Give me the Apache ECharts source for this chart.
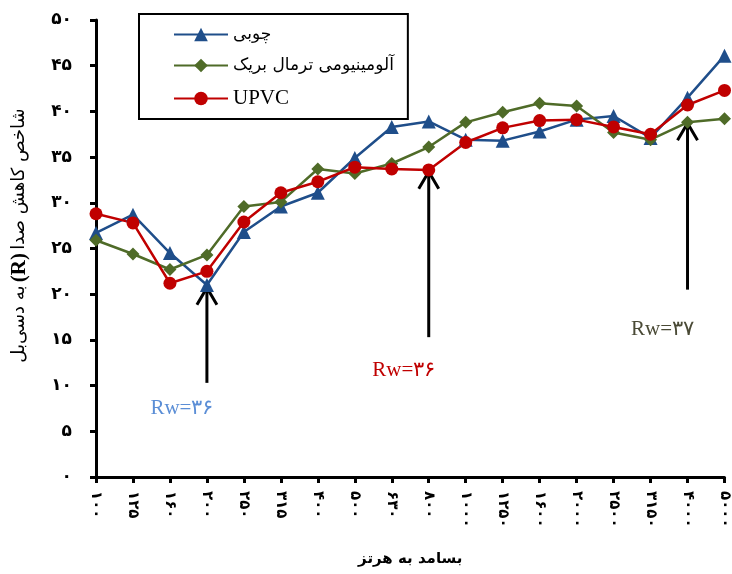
<!DOCTYPE html>
<html>
<head>
<meta charset="utf-8">
<script src="https://cdn.jsdelivr.net/npm/echarts@6/dist/echarts.min.js"></script>
<style>
  html, body { margin: 0; padding: 0; background: #fff; }
  #chart { width: 732px; height: 574px; }
</style>
</head>
<body>
<div id="chart"></div>
<script>
// Frequency bands (Hz)
const freqs = [100, 125, 160, 200, 250, 315, 400, 500, 630, 800, 1000, 1250, 1600, 2000, 2500, 3150, 4000, 5000];

// Sound reduction index R (dB) per window frame type
const wooden   = [26.7, 28.7, 24.5, 21.0, 26.8, 29.6, 31.1, 34.9, 38.3, 38.9, 36.9, 36.8, 37.8, 39.1, 39.5, 37.1, 41.5, 46.1];
const aluminum = [25.9, 24.4, 22.7, 24.3, 29.6, 30.1, 33.7, 33.2, 34.3, 36.1, 38.8, 39.9, 40.9, 40.6, 37.7, 36.9, 38.8, 39.2];
const upvc     = [28.8, 27.8, 21.2, 22.5, 27.9, 31.1, 32.3, 33.9, 33.7, 33.6, 36.6, 38.2, 39.0, 39.1, 38.3, 37.5, 40.7, 42.3];

const seriesNames = ['چوبی', 'آلومینیومی ترمال بریک', 'UPVC'];

// Weighted index callouts: arrow frequency, arrow base / tip (dB), label level (dB), label text
const rwFreq  = [200, 800, 4000];
const rwBase  = [10.3, 15.3, 20.5];
const rwTip   = [20.7, 33.4, 38.7];
const rwLevel = [7.5, 11.7, 16.1];
const rwText  = ['Rw=۳۶', 'Rw=۳۶', 'Rw=۳۷'];
const rwColor = ['#5b8ed6', '#c00000', '#4a4a36'];

const faDigits = '۰۱۲۳۴۵۶۷۸۹';
const fa = v => String(v).replace(/\d/g, d => faDigits[d]);

const PERSIAN = '"DejaVu Sans", "Noto Sans", sans-serif';
const SERIF = '"Liberation Serif", "DejaVu Serif", serif';

const chart = echarts.init(document.getElementById('chart'), null, { renderer: 'canvas' });

const calloutData = rwFreq.map((f, i) => [freqs.indexOf(f), rwBase[i], rwTip[i], rwLevel[i], i]);

function renderCallout(params, api) {
  const idx = api.value(4);
  const base = api.coord([api.value(0), api.value(1)]);
  const tip = api.coord([api.value(0), api.value(2)]);
  const lab = api.coord([api.value(0), api.value(3)]);
  return {
    type: 'group',
    children: [
      { type: 'line', shape: { x1: base[0], y1: base[1], x2: tip[0], y2: tip[1] },
        style: { stroke: '#000', lineWidth: 3 } },
      { type: 'polyline', shape: { points: [[tip[0] - 10, tip[1] + 17], [tip[0], tip[1]], [tip[0] + 10, tip[1] + 17]] },
        style: { stroke: '#000', lineWidth: 3, fill: null } },
      { type: 'text', x: lab[0] - 25, y: lab[1],
        style: { text: rwText[idx], fill: rwColor[idx], font: '21px ' + SERIF,
                 align: 'center', verticalAlign: 'middle' } }
    ]
  };
}

const lineSeries = (name, data, color, symbol, size) => ({
  name, type: 'line', data, symbol, symbolSize: size,
  lineStyle: { color, width: 2.5 },
  itemStyle: { color },
  z: 3
});

chart.setOption({
  animation: false,
  backgroundColor: '#fff',
  grid: { left: 96, right: 5, top: 20, bottom: 97, containLabel: false },
  legend: {
    data: seriesNames,
    orient: 'vertical',
    left: 139, top: 14,
    padding: [12, 14, 10, 34],
    itemWidth: 54, itemHeight: 17, itemGap: 14,
    borderColor: '#000', borderWidth: 2,
    formatter: n => n === 'UPVC' ? '{u|' + n + '}' : '{p|' + n + '}',
    textStyle: {
      color: '#000',
      rich: {
        p: { fontFamily: PERSIAN, fontSize: 17, color: '#000' },
        u: { fontFamily: SERIF, fontSize: 21, color: '#000' }
      }
    }
  },
  xAxis: {
    type: 'category',
    data: freqs,
    boundaryGap: false,
    name: 'بسامد به هرتز',
    nameLocation: 'middle',
    nameGap: 75,
    nameTextStyle: { fontFamily: PERSIAN, fontSize: 15, fontWeight: 'bold', color: '#000' },
    axisLine: { lineStyle: { color: '#000', width: 3 } },
    axisTick: { length: 6, lineStyle: { color: '#000', width: 3 } },
    axisLabel: {
      rotate: -90, margin: 14, interval: 0,
      formatter: v => fa(v),
      fontFamily: PERSIAN, fontSize: 15, fontWeight: 'bold', color: '#000'
    },
    splitLine: { show: false }
  },
  yAxis: {
    type: 'value',
    min: 0, max: 50, interval: 5,
    name: '{p|به دسی‌بل} {r|(R)} {p|شاخص کاهش صدا}',
    nameLocation: 'middle',
    nameRotate: 90,
    nameGap: 66,
    nameTextStyle: {
      color: '#000',
      padding: [0, 0, 0, 26],
      rich: {
        p: { fontFamily: PERSIAN, fontSize: 18, color: '#000' },
        r: { fontFamily: SERIF, fontSize: 21, fontWeight: 'bold', color: '#000' }
      }
    },
    axisLine: { show: true, lineStyle: { color: '#000', width: 3 } },
    axisTick: { show: true, length: 6, lineStyle: { color: '#000', width: 3 } },
    axisLabel: {
      margin: 24,
      formatter: v => fa(v),
      fontFamily: PERSIAN, fontSize: 17, fontWeight: 'bold', color: '#000'
    },
    splitLine: { show: false }
  },
  series: [
    {
      type: 'custom',
      name: 'callouts',
      data: calloutData,
      encode: { x: 0, y: [1, 2] },
      renderItem: renderCallout,
      silent: true,
      z: 2
    },
    lineSeries(seriesNames[0], wooden, '#1f4e8a', 'triangle', 14),
    lineSeries(seriesNames[1], aluminum, '#4f6b28', 'diamond', 13),
    lineSeries(seriesNames[2], upvc, '#c00000', 'circle', 13)
  ]
});
</script>
</body>
</html>
